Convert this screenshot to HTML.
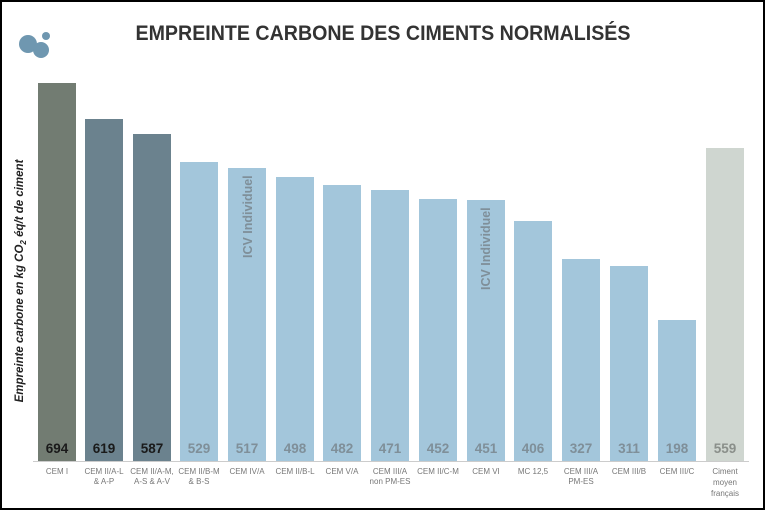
<!DOCTYPE html>
<html><head><meta charset="utf-8"><style>
html,body{margin:0;padding:0;background:#fff;}
svg{display:block;font-family:"Liberation Sans",Arial,sans-serif;}
</style></head><body>
<svg width="765" height="510" viewBox="0 0 765 510" xmlns="http://www.w3.org/2000/svg">
<rect x="1" y="1" width="763" height="508" fill="#fff" stroke="#000" stroke-width="2"/>
<circle cx="28" cy="44" r="9" fill="#6f97b0"/>
<circle cx="41" cy="50" r="8" fill="#6f97b0"/>
<circle cx="46" cy="36" r="4" fill="#6f97b0"/>
<text x="383" y="40" text-anchor="middle" font-size="21" font-weight="bold" fill="#333" textLength="495" lengthAdjust="spacingAndGlyphs">EMPREINTE CARBONE DES CIMENTS NORMALISÉS</text>
<text transform="translate(23,281) rotate(-90)" text-anchor="middle" font-size="11.5" font-weight="bold" font-style="italic" fill="#222">Empreinte carbone en kg CO<tspan font-size="8" dy="3">2</tspan><tspan dy="-3"> éq/t de ciment</tspan></text>
<g>
<rect x="38" y="83" width="38" height="378" fill="#727c72"/>
<rect x="85" y="119" width="38" height="342" fill="#6b828e"/>
<rect x="133" y="134" width="38" height="327" fill="#6b828e"/>
<rect x="180" y="162" width="38" height="299" fill="#a3c6db"/>
<rect x="228" y="168" width="38" height="293" fill="#a3c6db"/>
<rect x="276" y="177" width="38" height="284" fill="#a3c6db"/>
<rect x="323" y="185" width="38" height="276" fill="#a3c6db"/>
<rect x="371" y="190" width="38" height="271" fill="#a3c6db"/>
<rect x="419" y="199" width="38" height="262" fill="#a3c6db"/>
<rect x="467" y="200" width="38" height="261" fill="#a3c6db"/>
<rect x="514" y="221" width="38" height="240" fill="#a3c6db"/>
<rect x="562" y="259" width="38" height="202" fill="#a3c6db"/>
<rect x="610" y="266" width="38" height="195" fill="#a3c6db"/>
<rect x="658" y="320" width="38" height="141" fill="#a3c6db"/>
<rect x="706" y="148" width="38" height="313" fill="#cfd6d0"/>
</g>
<line x1="33" y1="461.5" x2="749" y2="461.5" stroke="#ccc" stroke-width="1"/>
<g font-size="13.5" font-weight="bold" text-anchor="middle">
<text x="57" y="453" fill="#1a1a1a">694</text>
<text x="104" y="453" fill="#1a1a1a">619</text>
<text x="152" y="453" fill="#1a1a1a">587</text>
<g fill="#7f8f99">
<text x="199" y="453">529</text><text x="247" y="453">517</text><text x="295" y="453">498</text>
<text x="342" y="453">482</text><text x="390" y="453">471</text><text x="438" y="453">452</text>
<text x="486" y="453">451</text><text x="533" y="453">406</text><text x="581" y="453">327</text>
<text x="629" y="453">311</text><text x="677" y="453">198</text>
</g>
<text x="725" y="453" fill="#8a8f8a">559</text>
</g>
<g font-size="12.5" font-weight="bold" fill="#7f8f99">
<text transform="translate(252,258) rotate(-90)">ICV Individuel</text>
<text transform="translate(490,290) rotate(-90)">ICV Individuel</text>
</g>
<g font-size="8" fill="#777" text-anchor="middle">
<text x="57" y="474">CEM I</text>
<text x="104" y="474">CEM II/A-L</text><text x="104" y="484">&amp; A-P</text>
<text x="152" y="474">CEM II/A-M,</text><text x="152" y="484">A-S &amp; A-V</text>
<text x="199" y="474">CEM II/B-M</text><text x="199" y="484">&amp; B-S</text>
<text x="247" y="474">CEM IV/A</text>
<text x="295" y="474">CEM II/B-L</text>
<text x="342" y="474">CEM V/A</text>
<text x="390" y="474">CEM III/A</text><text x="390" y="484">non PM-ES</text>
<text x="438" y="474">CEM II/C-M</text>
<text x="486" y="474">CEM VI</text>
<text x="533" y="474">MC 12,5</text>
<text x="581" y="474">CEM III/A</text><text x="581" y="484">PM-ES</text>
<text x="629" y="474">CEM III/B</text>
<text x="677" y="474">CEM III/C</text>
<text x="725" y="474">Ciment</text><text x="725" y="485">moyen</text><text x="725" y="496">français</text>
</g>
</svg>
</body></html>
